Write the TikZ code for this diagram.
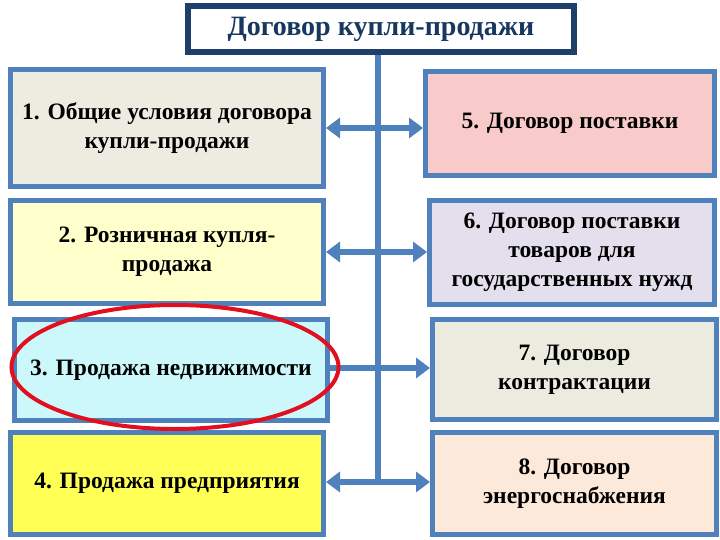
\documentclass[tikz,border=0pt]{standalone}
\usepackage{fontspec}
\setmainfont{Liberation Serif}
\usetikzlibrary{arrows.meta,shapes.geometric}
\definecolor{bordblue}{HTML}{4F81BD}
\definecolor{navy}{HTML}{1F3F6B}
\definecolor{titletext}{HTML}{17375E}
\definecolor{fillA}{HTML}{EEECE1}
\definecolor{fillB}{HTML}{FFFFCC}
\definecolor{fillC}{HTML}{CCF8FC}
\definecolor{fillD}{HTML}{FFFF55}
\definecolor{fillE}{HTML}{F9CACA}
\definecolor{fillF}{HTML}{E4DFEC}
\definecolor{fillG}{HTML}{EBEBDF}
\definecolor{fillH}{HTML}{FDE9D9}
\definecolor{ringred}{HTML}{E0101E}
\tikzset{
  x=1pt, y=-1pt,
  boxnode/.style={draw=bordblue, line width=5pt, align=center, inner sep=2pt,
    font=\bfseries\fontsize{23.5}{29}\selectfont, text=black},
  conn/.style={draw=bordblue, line width=6pt},
  arr/.style={conn, -{Triangle[length=14pt,width=20pt]}},
  darr/.style={conn, {Triangle[length=14pt,width=20pt]}-{Triangle[length=14pt,width=20pt]}},
}
\begin{document}
\begin{tikzpicture}
\useasboundingbox[fill=white] (0,0) rectangle (720,540);
% title
\node[draw=navy, line width=6pt, fill=white, minimum width=386pt, minimum height=46pt,
  font=\bfseries\fontsize{28}{32}\selectfont, text=titletext] (title) at (381,29) {Договор купли-продажи};
% row coordinates on the trunk
\coordinate (r1) at (378,128);
\coordinate (r2) at (378,252);
\coordinate (r3) at (378,368);
\coordinate (r4) at (378,482);
% left boxes
\node[boxnode, fill=fillA, minimum width=313pt, minimum height=117pt] (b1) at (167,128) {1. Общие условия договора\\купли-продажи};
\node[boxnode, fill=fillB, minimum width=313pt, minimum height=103pt] (b2) at (167,252) {2. Розничная купля-\\продажа};
\node[boxnode, fill=fillC, minimum width=313pt, minimum height=101pt] (b3) at (171,370) {3. Продажа недвижимости};
\node[boxnode, fill=fillD, minimum width=313pt, minimum height=102pt] (b4) at (167,483.5) {4. Продажа предприятия};
% right boxes
\node[boxnode, fill=fillE, minimum width=289pt, minimum height=104pt] (b5) at (570,123.5) {5. Договор поставки};
\node[boxnode, fill=fillF, minimum width=285pt, minimum height=104pt] (b6) at (572,252.5) {6. Договор поставки\\товаров для\\государственных нужд};
\node[boxnode, fill=fillG, minimum width=284pt, minimum height=100pt] (b7) at (574.5,369.5) {7. Договор\\контрактации};
\node[boxnode, fill=fillH, minimum width=284pt, minimum height=102pt] (b8) at (574.5,483.5) {8. Договор\\энергоснабжения};
% trunk
\draw[conn] (title.south -| r1) -- (r4);
% connectors
\draw[darr] (b1.east |- r1) -- (b5.west |- r1);
\draw[darr] (b2.east |- r2) -- (b6.west |- r2);
\draw[arr] (b3.east |- r3) -- (b7.west |- r3);
\draw[darr] (b4.east |- r4) -- (b8.west |- r4);
% red ring
\node[draw=ringred, line width=4pt, ellipse, inner sep=0pt, minimum width=327pt, minimum height=124pt] (ring) at (175,367) {};
\end{tikzpicture}
\end{document}
